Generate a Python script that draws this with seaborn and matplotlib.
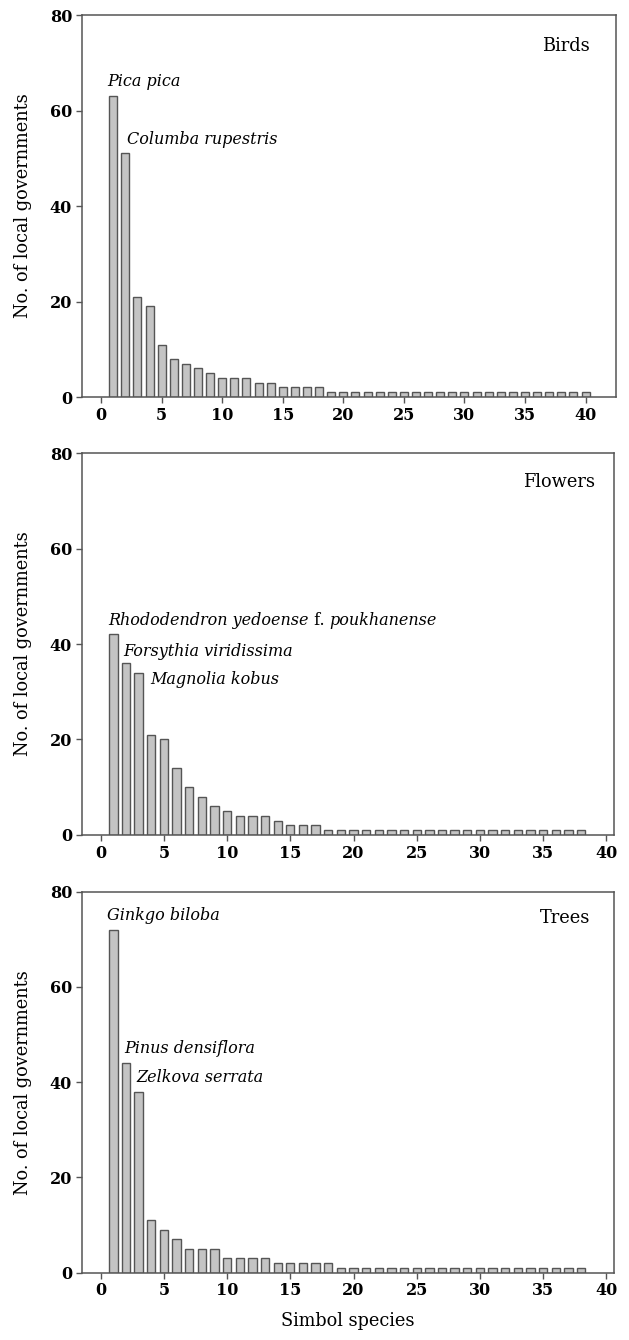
import numpy as np
import pandas as pd
import matplotlib
matplotlib.use("Agg")
import matplotlib.pyplot as plt
import seaborn as sns

sns.set_theme(style="white")
plt.rcParams["font.family"] = ["DejaVu Serif"]
plt.rcParams["text.color"] = "black"
plt.rcParams["axes.labelcolor"] = "black"

# number of local governments per symbol species, ranked
birds = [63, 51, 21, 19, 11, 8, 7, 6, 5, 4, 4, 4, 3, 3, 2, 2, 2, 2] + [1] * 22
flowers = [42, 36, 34, 21, 20, 14, 10, 8, 6, 5, 4, 4, 4, 3, 2, 2, 2] + [1] * 21
trees = [72, 44, 38, 11, 9, 7, 5, 5, 5, 3, 3, 3, 3, 2, 2, 2, 2, 2] + [1] * 20

panel_names = ["Birds", "Flowers", "Trees"]
ticks_x = [0, 5, 10, 15, 20, 25, 30, 35, 40]
ticks_y = [0, 20, 40, 60, 80]

# labelled species: (text, x, y)
birds_labels = [("Pica pica", 0.5, 66), ("Columba rupestris", 2.1, 54)]
flowers_labels = [("Forsythia viridissima", 1.8, 38.4), ("Magnolia kobus", 3.95, 32.5)]
trees_labels = [("Ginkgo biloba", 0.52, 75), ("Pinus densiflora", 1.84, 47), ("Zelkova serrata", 2.85, 41)]

FS = 11.5
LFS = 12.8
EDGE = "#555555"

fig = plt.figure(figsize=(6.29, 13.40), dpi=100)
boxes = [
    [0.130, 0.7037, 0.849, 0.2851],
    [0.130, 0.3769, 0.846, 0.2850],
    [0.130, 0.0502, 0.846, 0.2844],
]
xlims = [(-1.6, 42.5), (-1.5, 40.6), (-1.5, 40.6)]
name_pos = [(0.951, 0.918), (0.965, 0.924), (0.955, 0.931)]
datasets = [birds, flowers, trees]
labelsets = [birds_labels, flowers_labels, trees_labels]

for i, (vals, name) in enumerate(zip(datasets, panel_names)):
    ax = fig.add_axes(boxes[i])
    df = pd.DataFrame({"rank": np.arange(1, len(vals) + 1), "n": vals})
    sns.barplot(data=df, x="rank", y="n", native_scale=True, width=0.66,
                color="#c4c4c4", edgecolor=EDGE, linewidth=1.0, saturation=1, ax=ax)
    ax.set_xlim(*xlims[i]); ax.set_ylim(0, 80)
    ax.set_xticks(ticks_x); ax.set_yticks(ticks_y)
    ax.tick_params(direction="out", length=4, width=1, color=EDGE, labelsize=FS,
                   labelcolor="black", bottom=True, left=True, pad=3)
    for lab in ax.get_xticklabels() + ax.get_yticklabels():
        lab.set_fontweight("bold")
    for s in ax.spines.values():
        s.set_color(EDGE); s.set_linewidth(1.1)
    ax.set_ylabel("No. of local governments", fontsize=LFS, labelpad=13)
    ax.set_xlabel("Simbol species" if i == 2 else "", fontsize=LFS, labelpad=9)
    ax.text(*name_pos[i], name, transform=ax.transAxes, ha="right", va="center", fontsize=LFS)
    for txt, x, y in labelsets[i]:
        ax.text(x, y, txt, style="italic", fontsize=FS, va="center", ha="left")
    if i == 1:
        t1 = ax.text(0.58, 44, "Rhododendron yedoense", style="italic", fontsize=FS,
                     va="baseline", ha="left")
        t2 = ax.annotate(" f. ", xy=(1, 0), xycoords=t1, fontsize=FS, va="bottom", ha="left")
        ax.annotate("poukhanense", xy=(1, 0), xycoords=t2, fontsize=FS, style="italic",
                    va="bottom", ha="left")

fig.savefig("out.png", dpi=100)
